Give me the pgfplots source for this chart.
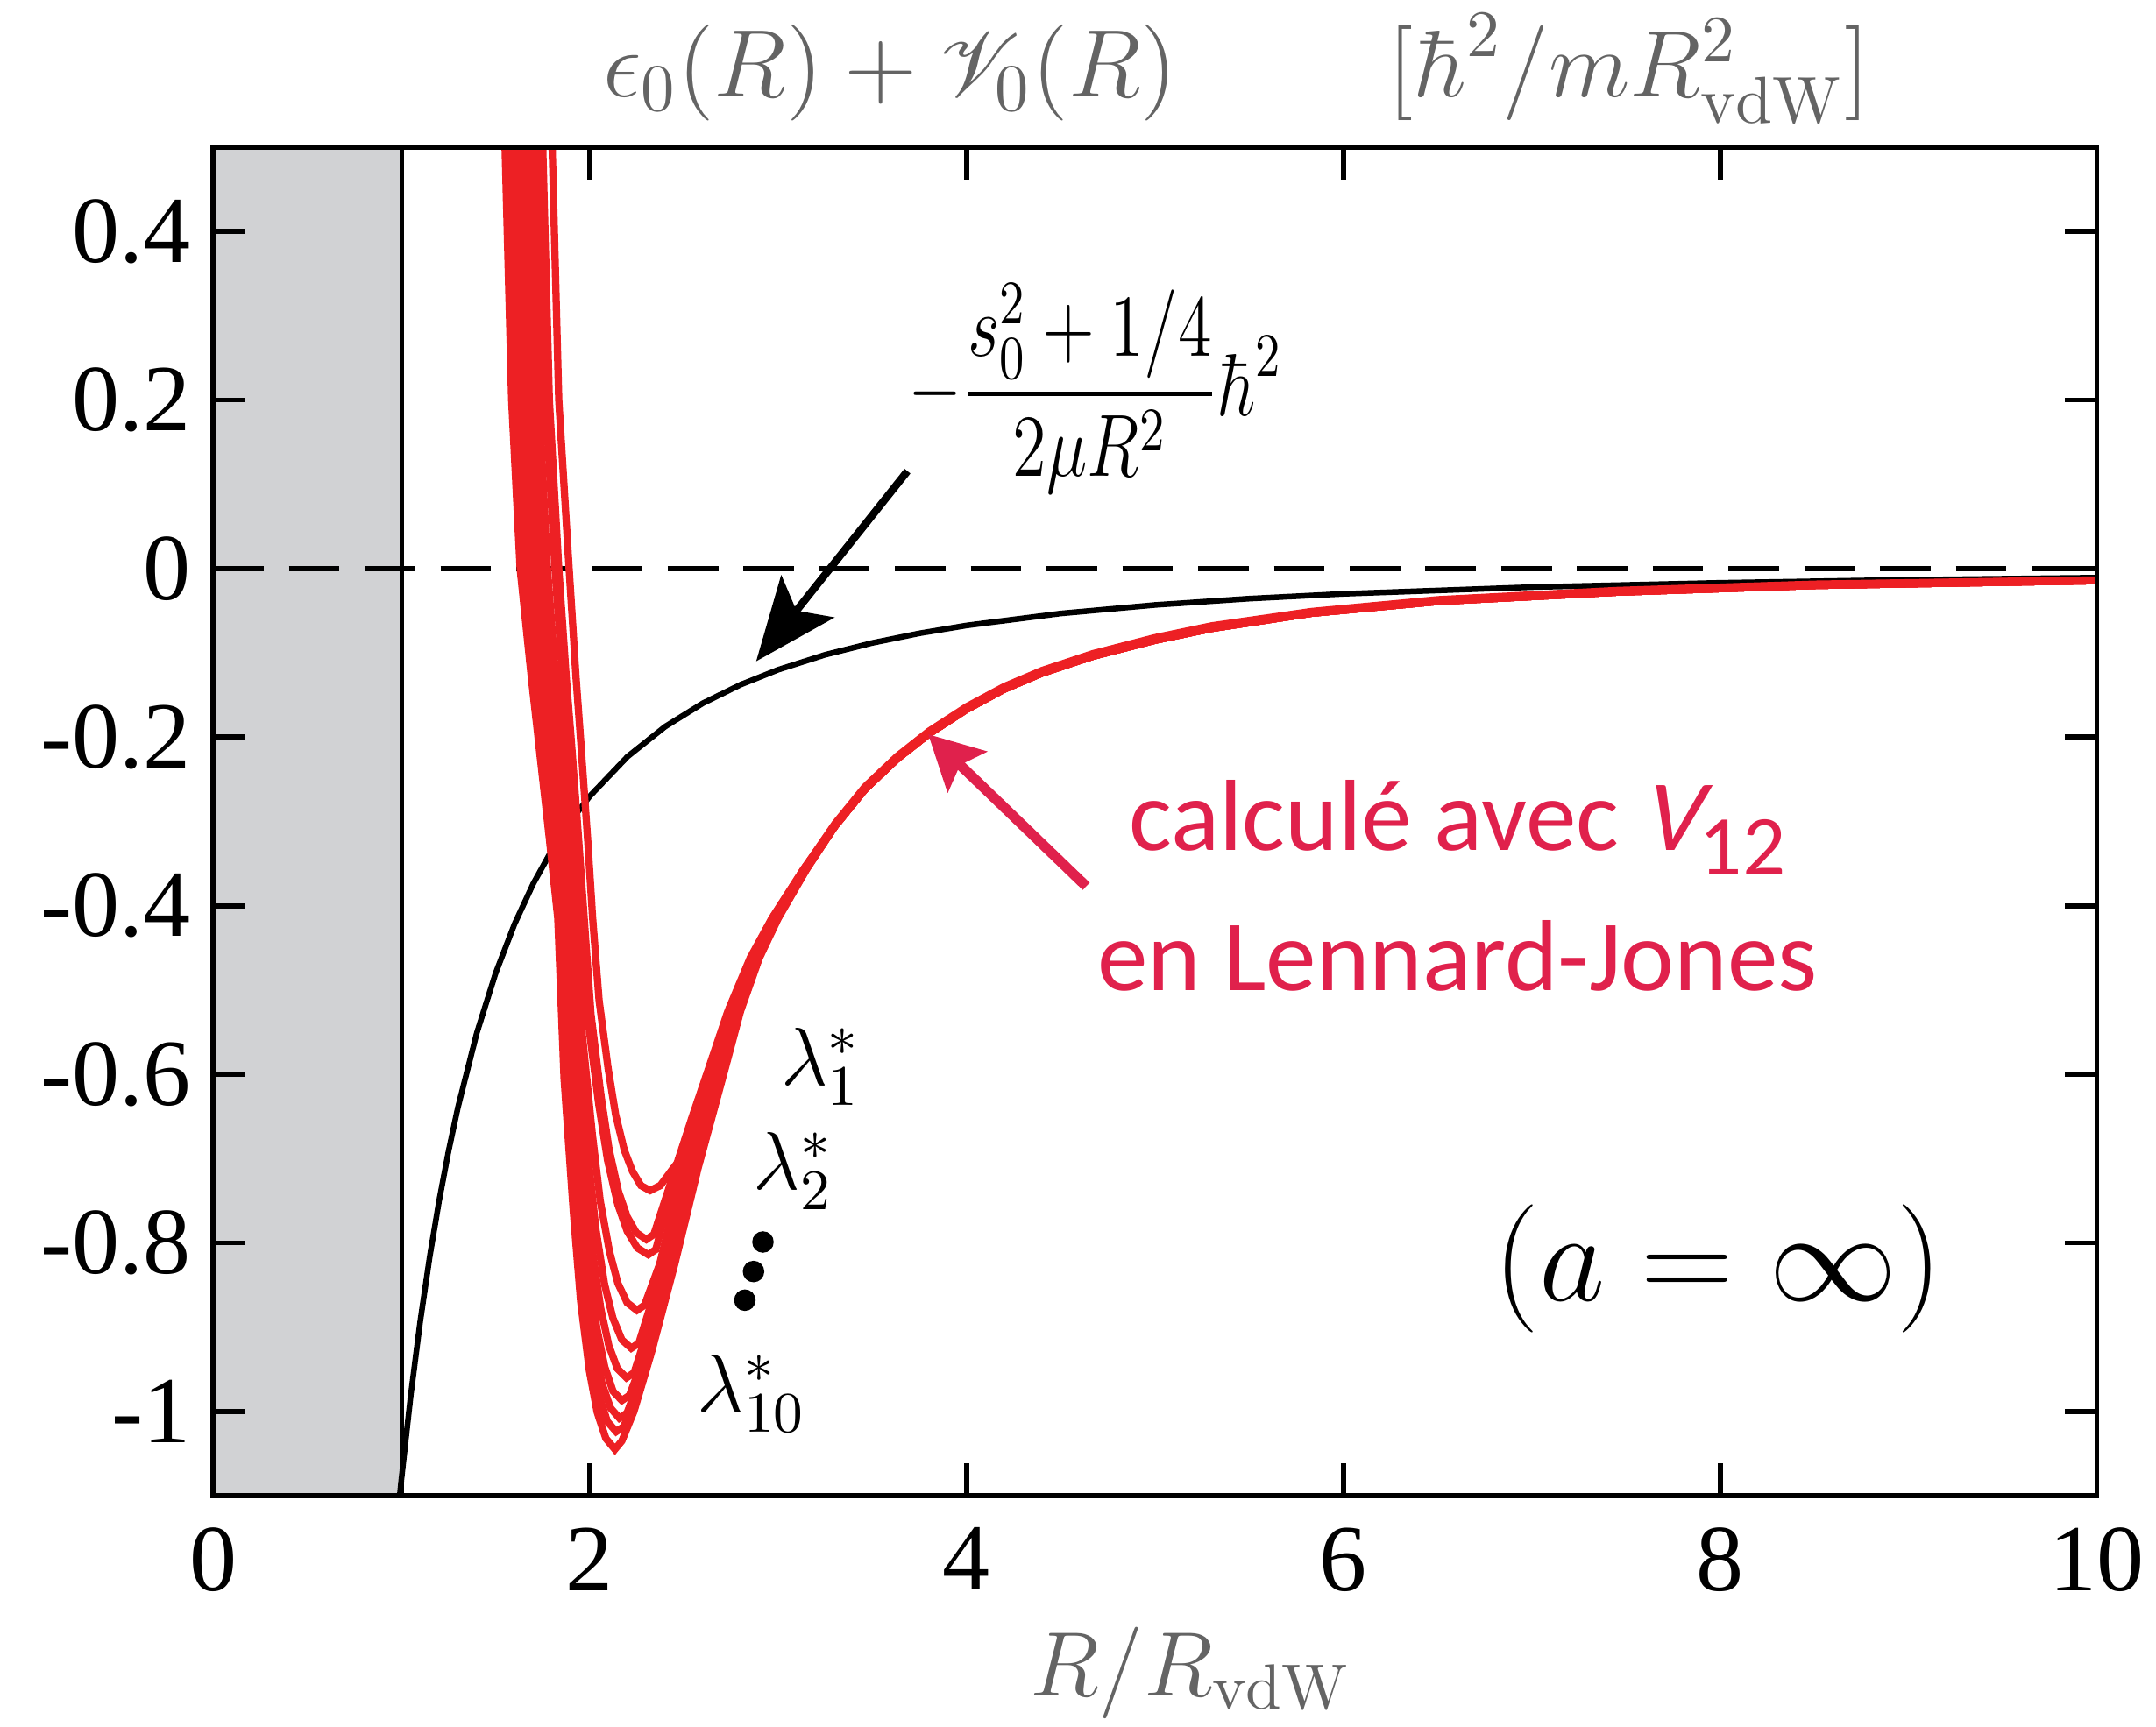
\documentclass[border=0pt]{standalone}
\usepackage{fix-cm}
\usepackage[no-math]{fontspec}
\setmainfont{Liberation Serif}
\newfontfamily\calibri{Carlito}
\usepackage{amsmath}
\usepackage{mathrsfs}
\usepackage{graphicx}
\usepackage{pgfplots}
\pgfplotsset{compat=1.18}
\usetikzlibrary{arrows.meta}
\definecolor{curvered}{RGB}{237,32,36}
\definecolor{crimson}{RGB}{224,33,76}
\definecolor{titlegray}{RGB}{100,100,100}
\definecolor{shade}{RGB}{209,210,212}
\begin{document}
\begin{tikzpicture}
\begin{axis}[
  width=10.485cm, height=7.508cm, scale only axis,
  xmin=0, xmax=10, ymin=-1.1, ymax=0.5,
  xtick={0,2,4,6,8,10}, xticklabels={0,2,4,6,8,10},
  ytick={-1,-0.8,-0.6,-0.4,-0.2,0,0.2,0.4},
  yticklabels={-1,-0.8,-0.6,-0.4,-0.2,0,0.2,0.4},
  axis line style={line width=0.8pt},
  major tick length=0.18cm,
  tick style={line width=0.8pt, black},
  tick label style={font=\fontsize{15}{15}\selectfont},
  xticklabel style={yshift=-0.055cm},
  axis on top,
]
\addplot[fill=shade, draw=none] coordinates {(0,-1.1) (0,0.5) (1,0.5) (1,-1.1)} -- cycle;
\addplot[black, line width=0.7pt] coordinates {(1,-1.1) (1,0.5)};
\addplot[black, line width=0.9pt, dash pattern=on 8pt off 4pt] coordinates {(0,0) (10,0)};
% black curve
\addplot[black, line width=0.9pt] coordinates {(0.991,-1.0997) (1.0,-1.08) (1.05,-0.9796) (1.1,-0.8926) (1.15,-0.8166) (1.2,-0.75) (1.25,-0.6912) (1.3,-0.6391) (1.4,-0.5510) (1.5,-0.48) (1.6,-0.4219) (1.7,-0.3737) (1.8,-0.3333) (1.9,-0.2992) (2.0,-0.27) (2.2,-0.2231) (2.4,-0.1875) (2.6,-0.1598) (2.8,-0.1378) (3.0,-0.12) (3.25,-0.1022) (3.5,-0.0882) (3.75,-0.0768) (4.0,-0.0675) (4.5,-0.0533) (5.0,-0.0432) (5.5,-0.0357) (6.0,-0.03) (7.0,-0.0220) (8.0,-0.0169) (9.0,-0.0133) (10.0,-0.0108)};
% red curves
\addplot[curvered, line width=1.15pt] coordinates {(1.538,0.6) (1.55,0.5) (1.585,0.2) (1.63,0) (1.69,-0.13) (1.725,-0.2) (1.785,-0.32) (1.83,-0.415) (1.863,-0.604) (1.912,-0.762) (1.951,-0.869) (1.997,-0.951) (2.039,-1.001) (2.085,-1.032) (2.133,-1.045) (2.17,-1.035) (2.234,-1.0) (2.327,-0.93) (2.451,-0.825) (2.575,-0.711) (2.715,-0.596) (2.80,-0.525) (2.90,-0.462) (3.0,-0.415) (3.15,-0.357) (3.30,-0.306) (3.46,-0.262) (3.63,-0.226) (3.80,-0.196) (4.00,-0.167) (4.20,-0.143) (4.40,-0.124) (4.67,-0.104) (5.00,-0.085) (5.30,-0.071) (5.83,-0.053) (6.50,-0.039) (7.45,-0.028) (8.50,-0.020) (10.0,-0.0143)};
\addplot[curvered, line width=1.15pt] coordinates {(1.563,0.6) (1.575,0.5) (1.61,0.2) (1.655,0) (1.712,-0.13) (1.745,-0.2) (1.802,-0.32) (1.845,-0.415) (1.878,-0.598) (1.925,-0.750) (1.963,-0.854) (2.007,-0.933) (2.049,-0.981) (2.093,-1.012) (2.14,-1.024) (2.18,-1.018) (2.271,-0.965) (2.317,-0.93) (2.376,-0.88) (2.441,-0.825) (2.501,-0.77) (2.565,-0.711) (2.640,-0.65) (2.708,-0.596) (2.794,-0.525) (2.896,-0.462) (2.997,-0.415) (3.149,-0.357) (3.30,-0.306) (3.46,-0.262) (3.63,-0.226) (3.80,-0.196) (4.00,-0.167) (4.20,-0.143) (4.40,-0.124) (4.67,-0.104) (5.00,-0.085) (5.30,-0.071) (5.83,-0.053) (6.50,-0.039) (7.45,-0.028) (8.50,-0.020) (10.0,-0.0143)};
\addplot[curvered, line width=1.15pt] coordinates {(1.588,0.6) (1.60,0.5) (1.635,0.2) (1.68,0) (1.734,-0.13) (1.765,-0.2) (1.819,-0.32) (1.86,-0.415) (1.893,-0.593) (1.940,-0.741) (1.979,-0.842) (2.023,-0.919) (2.065,-0.967) (2.110,-0.996) (2.157,-1.008) (2.197,-1.002) (2.26,-0.965) (2.307,-0.93) (2.366,-0.88) (2.431,-0.825) (2.491,-0.77) (2.555,-0.711) (2.632,-0.65) (2.700,-0.596) (2.789,-0.525) (2.892,-0.462) (2.994,-0.415) (3.147,-0.357) (3.30,-0.306) (3.46,-0.262) (3.63,-0.226) (3.80,-0.196) (4.00,-0.167) (4.20,-0.143) (4.40,-0.124) (4.67,-0.104) (5.00,-0.085) (5.30,-0.071) (5.83,-0.053) (6.50,-0.039) (7.45,-0.028) (8.50,-0.020) (10.0,-0.0143)};
\addplot[curvered, line width=1.15pt] coordinates {(1.608,0.6) (1.62,0.5) (1.655,0.2) (1.70,0) (1.75,-0.13) (1.78,-0.2) (1.834,-0.32) (1.875,-0.415) (1.908,-0.587) (1.955,-0.730) (1.993,-0.827) (2.037,-0.901) (2.079,-0.947) (2.123,-0.976) (2.17,-0.987) (2.21,-0.981) (2.297,-0.93) (2.356,-0.88) (2.421,-0.825) (2.481,-0.77) (2.545,-0.711) (2.623,-0.65) (2.693,-0.596) (2.783,-0.525) (2.888,-0.462) (2.991,-0.415) (3.146,-0.357) (3.30,-0.306) (3.46,-0.262) (3.63,-0.226) (3.80,-0.196) (4.00,-0.167) (4.20,-0.143) (4.40,-0.124) (4.67,-0.104) (5.00,-0.085) (5.30,-0.071) (5.83,-0.053) (6.50,-0.039) (7.45,-0.028) (8.50,-0.020) (10.0,-0.0143)};
\addplot[curvered, line width=1.15pt] coordinates {(1.633,0.6) (1.645,0.5) (1.68,0.2) (1.725,0) (1.772,-0.13) (1.80,-0.2) (1.852,-0.32) (1.89,-0.415) (1.924,-0.579) (1.972,-0.715) (2.012,-0.807) (2.058,-0.878) (2.101,-0.922) (2.146,-0.949) (2.195,-0.96) (2.235,-0.954) (2.341,-0.88) (2.406,-0.825) (2.466,-0.77) (2.53,-0.711) (2.610,-0.65) (2.682,-0.596) (2.775,-0.525) (2.882,-0.462) (2.987,-0.415) (3.144,-0.357) (3.30,-0.306) (3.46,-0.262) (3.63,-0.226) (3.80,-0.196) (4.00,-0.167) (4.20,-0.143) (4.40,-0.124) (4.67,-0.104) (5.00,-0.085) (5.30,-0.071) (5.83,-0.053) (6.50,-0.039) (7.45,-0.028) (8.50,-0.020) (10.0,-0.0143)};
\addplot[curvered, line width=1.15pt] coordinates {(1.658,0.6) (1.67,0.5) (1.705,0.2) (1.75,0) (1.794,-0.13) (1.82,-0.2) (1.869,-0.32) (1.905,-0.415) (1.940,-0.568) (1.99,-0.696) (2.031,-0.782) (2.078,-0.849) (2.122,-0.889) (2.170,-0.915) (2.22,-0.925) (2.26,-0.919) (2.391,-0.825) (2.451,-0.77) (2.515,-0.711) (2.597,-0.65) (2.671,-0.596) (2.766,-0.525) (2.876,-0.462) (2.983,-0.415) (3.142,-0.357) (3.30,-0.306) (3.46,-0.262) (3.63,-0.226) (3.80,-0.196) (4.00,-0.167) (4.20,-0.143) (4.40,-0.124) (4.67,-0.104) (5.00,-0.085) (5.30,-0.071) (5.83,-0.053) (6.50,-0.039) (7.45,-0.028) (8.50,-0.020) (10.0,-0.0143)};
\addplot[curvered, line width=1.15pt] coordinates {(1.683,0.6) (1.695,0.5) (1.73,0.2) (1.775,0) (1.819,-0.13) (1.845,-0.2) (1.891,-0.32) (1.925,-0.415) (1.961,-0.555) (2.013,-0.671) (2.055,-0.750) (2.104,-0.810) (2.149,-0.848) (2.198,-0.871) (2.25,-0.88) (2.29,-0.874) (2.371,-0.825) (2.431,-0.77) (2.495,-0.711) (2.579,-0.65) (2.656,-0.596) (2.755,-0.525) (2.868,-0.462) (2.977,-0.415) (3.139,-0.357) (3.30,-0.306) (3.46,-0.262) (3.63,-0.226) (3.80,-0.196) (4.00,-0.167) (4.20,-0.143) (4.40,-0.124) (4.67,-0.104) (5.00,-0.085) (5.30,-0.071) (5.83,-0.053) (6.50,-0.039) (7.45,-0.028) (8.50,-0.020) (10.0,-0.0143)};
\addplot[curvered, line width=1.15pt] coordinates {(1.718,0.6) (1.73,0.5) (1.765,0.2) (1.815,0) (1.855,-0.13) (1.88,-0.2) (1.92,-0.32) (1.95,-0.415) (1.990,-0.535) (2.047,-0.635) (2.094,-0.702) (2.148,-0.754) (2.198,-0.786) (2.252,-0.806) (2.31,-0.814) (2.35,-0.808) (2.465,-0.711) (2.553,-0.65) (2.634,-0.596) (2.738,-0.525) (2.855,-0.462) (2.968,-0.415) (3.134,-0.357) (3.30,-0.306) (3.46,-0.262) (3.63,-0.226) (3.80,-0.196) (4.00,-0.167) (4.20,-0.143) (4.40,-0.124) (4.67,-0.104) (5.00,-0.085) (5.30,-0.071) (5.83,-0.053) (6.50,-0.039) (7.45,-0.028) (8.50,-0.020) (10.0,-0.0143)};
\addplot[curvered, line width=1.15pt] coordinates {(1.738,0.6) (1.75,0.5) (1.785,0.2) (1.835,0) (1.875,-0.13) (1.90,-0.2) (1.94,-0.32) (1.97,-0.415) (2.006,-0.529) (2.059,-0.625) (2.102,-0.689) (2.152,-0.739) (2.198,-0.769) (2.247,-0.788) (2.30,-0.796) (2.34,-0.79) (2.455,-0.711) (2.544,-0.65) (2.626,-0.596) (2.733,-0.525) (2.851,-0.462) (2.966,-0.415) (3.133,-0.357) (3.30,-0.304) (3.46,-0.260) (3.63,-0.224) (3.80,-0.194) (4.00,-0.165) (4.20,-0.141) (4.40,-0.122) (4.67,-0.102) (5.00,-0.083) (5.30,-0.069) (5.83,-0.052) (6.50,-0.038) (7.45,-0.027) (8.50,-0.019) (10.0,-0.0138)};
\addplot[curvered, line width=1.15pt] coordinates {(1.788,0.6) (1.80,0.5) (1.835,0.2) (1.89,0) (1.927,-0.13) (1.95,-0.2) (1.988,-0.32) (2.015,-0.415) (2.049,-0.512) (2.097,-0.593) (2.137,-0.648) (2.183,-0.690) (2.226,-0.715) (2.271,-0.732) (2.32,-0.738) (2.374,-0.732) (2.444,-0.711) (2.529,-0.687) (2.59,-0.65) (2.66,-0.596) (2.76,-0.525) (2.87,-0.462) (2.975,-0.415) (3.135,-0.357) (3.30,-0.303) (3.46,-0.259) (3.63,-0.223) (3.80,-0.193) (4.00,-0.164) (4.20,-0.140) (4.40,-0.121) (4.67,-0.101) (5.00,-0.082) (5.30,-0.068) (5.83,-0.051) (6.50,-0.037) (7.45,-0.026) (8.50,-0.0185) (10.0,-0.0135)};
% dots
\addplot[only marks, mark=*, mark size=1.5pt, black] coordinates {(2.919,-0.799) (2.869,-0.834) (2.823,-0.868)};
% annotations
\node at (axis cs:4.686,0.213) {\scalebox{0.78}[1]{\fontsize{14}{16}\selectfont$-\dfrac{s_0^2+1/4}{2\mu R^2}\hbar^2$}};
\draw[black, line width=1.2pt, -{Stealth[length=0.46cm, width=0.375cm, inset=0.1cm]}] (axis cs:3.686,0.1156) -- (axis cs:2.883,-0.110);
\draw[crimson, line width=1.6pt, -{Stealth[length=0.30cm, width=0.31cm, inset=0.054cm]}] (axis cs:4.635,-0.377) -- (axis cs:3.796,-0.1966);
\node[font=\fontsize{13}{15}\selectfont] at (axis cs:3.226,-0.591) {$\lambda^*_1$};
\node[font=\fontsize{13}{15}\selectfont] at (axis cs:3.080,-0.715) {$\lambda^*_2$};
\node[font=\fontsize{13}{15}\selectfont] at (axis cs:2.861,-0.979) {$\lambda^*_{10}$};
\node[font=\fontsize{20.3}{23}\selectfont] at (axis cs:7.99,-0.831) {$(a=\infty)$};
\node[anchor=base, text=crimson, font=\fontsize{16}{19}\selectfont\calibri] at (axis cs:6.606,-0.3339) {calculé avec {\addfontfeatures{FakeSlant=0.22}V}\raisebox{-3.9pt}{\fontsize{13.5}{13.5}\selectfont 12}};
\node[anchor=base, text=crimson, font=\fontsize{16}{19}\selectfont\calibri] at (axis cs:6.606,-0.5005) {en Lennard-Jones};
\coordinate (T1) at (axis cs:3.595,0.560);
\coordinate (T2) at (axis cs:7.518,0.560);
\coordinate (XL) at (axis cs:5.19,-1.337);
\coordinate (bbSW) at (rel axis cs:0,0);
\coordinate (bbNE) at (rel axis cs:1,1);
\end{axis}
\node[anchor=base, text=titlegray, font=\fontsize{15.2}{18}\selectfont] at (T1) {$\epsilon_0(R)+\mathscr{V}_0(R)$};
\node[anchor=base, text=titlegray, font=\fontsize{15}{18}\selectfont] at (T2) {$[\hbar^2/mR^2_{\mathrm{vdW}}]$};
\node[anchor=base, text=titlegray, font=\fontsize{14.5}{17}\selectfont] at (XL) {$R/R_{\mathrm{vdW}}$};
\pgfresetboundingbox
\path[use as bounding box] ([shift={(-1.186cm,-1.285cm)}]bbSW) rectangle ([shift={(0.329cm,0.819cm)}]bbNE);
\end{tikzpicture}
\end{document}
